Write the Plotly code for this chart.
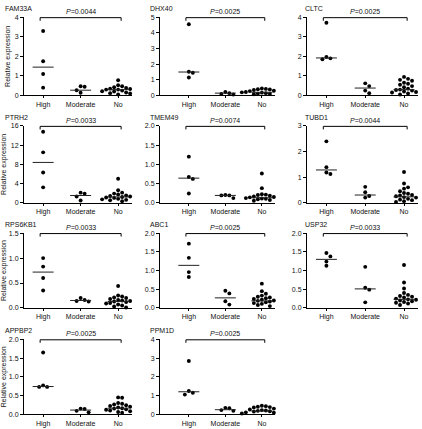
import plotly.graph_objects as go

W, H = 422, 429

groups = ["High", "Moderate", "No"]

genes = ["FAM33A", "DHX40", "CLTC", "PTRH2", "TMEM49", "TUBD1",
         "RPS6KB1", "ABC1", "USP32", "APPBP2", "PPM1D"]
p_values = ["0.0044", "0.0025", "0.0025", "0.0033", "0.0074", "0.0044",
            "0.0033", "0.0025", "0.0033", "0.0025", "0.0025"]
y_max = [4, 5, 4, 16, 2.0, 3, 1.5, 2.0, 2.0, 2.0, 4]
y_dtick = [1, 1, 1, 4, 0.5, 1, 0.5, 0.5, 0.5, 0.5, 1]
y_fmt = ["d", "d", "d", "d", ".1f", "d", ".1f", ".1f", ".1f", ".1f", "d"]

high = [
    [3.3, 1.75, 1.1, 0.4],
    [4.55, 1.52, 1.45, 1.15],
    [3.72, 1.97, 1.85, 1.9],
    [14.8, 10.5, 6.3, 3.2],
    [1.2, 0.67, 0.62, 0.24],
    [2.4, 1.39, 1.18, 1.12],
    [1.0, 0.83, 0.6, 0.35],
    [1.72, 1.34, 0.96, 0.83],
    [1.47, 1.38, 1.24, 1.13],
    [1.65, 0.77, 0.73, 0.73],
    [2.85, 1.24, 1.15, 1.05],
]
moderate = [
    [0.47, 0.45, 0.27, 0.14],
    [0.22, 0.15, 0.1, 0.06],
    [0.62, 0.48, 0.25, 0.12],
    [2.1, 1.9, 1.3, 0.45],
    [0.2, 0.19, 0.19, 0.12],
    [0.62, 0.41, 0.26, 0.2],
    [0.2, 0.16, 0.14, 0.13],
    [0.46, 0.39, 0.18, 0.09],
    [1.1, 0.54, 0.49, 0.15],
    [0.15, 0.14, 0.09, 0.05],
    [0.34, 0.32, 0.22, 0.18],
]
no_group = [
    [0.78, 0.52, 0.47, 0.42, 0.38, 0.35, 0.33, 0.3, 0.3, 0.28, 0.25, 0.22, 0.2, 0.18, 0.15, 0.12, 0.1, 0.05],
    [0.45, 0.42, 0.4, 0.38, 0.35, 0.3, 0.28, 0.25, 0.22, 0.2, 0.2, 0.18, 0.15, 0.12, 0.1, 0.08, 0.05],
    [0.95, 0.85, 0.8, 0.75, 0.65, 0.6, 0.55, 0.48, 0.42, 0.35, 0.3, 0.28, 0.25, 0.2, 0.18, 0.15, 0.1, 0.05],
    [5.0, 2.6, 2.1, 1.9, 1.7, 1.5, 1.4, 1.3, 1.2, 1.1, 1.0, 0.9, 0.8, 0.7, 0.6, 0.5, 0.3],
    [0.76, 0.38, 0.22, 0.21, 0.2, 0.18, 0.16, 0.15, 0.14, 0.13, 0.12, 0.11, 0.1, 0.09, 0.08, 0.07, 0.05],
    [1.2, 0.75, 0.6, 0.55, 0.45, 0.38, 0.35, 0.3, 0.28, 0.25, 0.22, 0.2, 0.15, 0.12, 0.1, 0.06, 0.03],
    [0.44, 0.25, 0.23, 0.21, 0.2, 0.18, 0.16, 0.15, 0.14, 0.13, 0.12, 0.1, 0.09, 0.07, 0.05, 0.03, 0.01],
    [0.65, 0.45, 0.38, 0.33, 0.3, 0.28, 0.26, 0.24, 0.22, 0.2, 0.19, 0.17, 0.15, 0.13, 0.11, 0.08, 0.05],
    [1.15, 0.68, 0.52, 0.4, 0.35, 0.32, 0.3, 0.28, 0.25, 0.23, 0.22, 0.2, 0.18, 0.16, 0.14, 0.12, 0.08],
    [0.45, 0.44, 0.3, 0.28, 0.26, 0.24, 0.22, 0.2, 0.18, 0.16, 0.15, 0.13, 0.12, 0.1, 0.08, 0.06, 0.04],
    [0.45, 0.43, 0.4, 0.38, 0.36, 0.3, 0.25, 0.22, 0.2, 0.18, 0.16, 0.14, 0.12, 0.1, 0.08, 0.06, 0.04],
]
# horizontal line value for each group (High, Moderate, No)
center_lines = [
    [1.45, 0.27, 0.3],
    [1.5, 0.15, 0.2],
    [1.92, 0.38, 0.3],
    [8.4, 1.5, 1.2],
    [0.64, 0.19, 0.13],
    [1.28, 0.3, 0.23],
    [0.72, 0.15, 0.13],
    [1.14, 0.27, 0.19],
    [1.3, 0.51, 0.23],
    [0.74, 0.11, 0.16],
    [1.2, 0.24, 0.17],
]

# layout in pixels
col_left = [24, 160, 307]
col_right = [132, 275, 418]
col_xrange = [(-0.51, 2.37), (-0.79, 2.36), (-0.5, 2.36)]
row_top = [13.5, 124, 233, 341]
row_bottom = [93, 202, 309, 417]
title_x = [3, 148, 303]

FONT = "Liberation Sans, Arial, sans-serif"
TXT = "#111"
MS = 3.9


def swarm(values, px_y, px_x, d=4.0):
    placed = []
    offs = [0.0] * len(values)
    order = sorted(range(len(values)), key=lambda i: -values[i])
    for i in order:
        y = values[i] * px_y
        cands = [0]
        for s in range(1, 8):
            cands += [s, -s]
        x = 0
        for c in cands:
            x = c * d
            if all((x - qx) ** 2 + (y - qy) ** 2 >= d * d for qx, qy in placed):
                break
        placed.append((x, y))
        offs[i] = x / px_x
    return offs


fig = go.Figure()
annotations = []
shapes = []
layout = {}

for i, g in enumerate(genes):
    r, c = divmod(i, 3)
    n = i + 1
    xs = "" if n == 1 else str(n)
    xa, ya = "x" + xs, "y" + xs
    x0p, x1p = col_left[c], col_right[c]
    y0p, y1p = row_top[r], row_bottom[r]
    xr = col_xrange[c]
    px_x = (x1p - x0p) / (xr[1] - xr[0])
    px_y = (y1p - y0p) / y_max[i]

    px, py = [], []
    for gi, vals in enumerate([high[i], moderate[i], no_group[i]]):
        offs = swarm(vals, px_y, px_x)
        px += [gi + o for o in offs]
        py += vals
    fig.add_trace(go.Scatter(x=px, y=py, mode="markers", xaxis=xa, yaxis=ya,
                             marker=dict(size=MS, color="black"),
                             cliponaxis=False, showlegend=False, hoverinfo="skip"))
    lx, ly = [], []
    hw = 10.5 / px_x
    for gi, m in enumerate(center_lines[i]):
        lx += [gi - hw, gi + hw, None]
        ly += [m, m, None]
    fig.add_trace(go.Scatter(x=lx, y=ly, mode="lines", xaxis=xa, yaxis=ya,
                             line=dict(color="#222", width=1),
                             cliponaxis=False, showlegend=False, hoverinfo="skip"))

    ticks_y = []
    v = 0.0
    while v <= y_max[i] + 1e-9:
        ticks_y.append(round(v, 3))
        v += y_dtick[i]
    ticktext = [(f"{t:.1f}" if y_fmt[i] == ".1f" else f"{int(t)}") for t in ticks_y]

    layout["xaxis" + xs] = dict(
        domain=[x0p / W, x1p / W], range=list(xr), anchor=ya,
        tickvals=[0, 1, 2], ticktext=groups, showgrid=False, zeroline=False,
        showline=True, linecolor="black", linewidth=1, ticks="outside",
        ticklen=2, tickcolor="black", tickfont=dict(family=FONT, size=7, color=TXT),
        fixedrange=True)
    yd = dict(
        domain=[1 - y1p / H, 1 - y0p / H], range=[0, y_max[i]], anchor=xa,
        tickvals=ticks_y, ticktext=ticktext, showgrid=False, zeroline=False,
        showline=True, linecolor="black", linewidth=1, ticks="outside",
        ticklen=3, tickcolor="black", tickfont=dict(family=FONT, size=7, color=TXT),
        fixedrange=True)
    if c == 0:
        yd["title"] = dict(text="Relative expression", font=dict(family=FONT, size=7, color=TXT),
                           standoff=3)
    layout["yaxis" + xs] = yd

    # bracket
    yb = ya + " domain"
    shapes.append(dict(type="path", xref=xa, yref=yb,
                       path="M -0.08 0.955 L -0.08 0.995 L 2.08 0.995 L 2.08 0.955",
                       line=dict(color="black", width=1)))
    annotations.append(dict(xref=xa, yref=yb, x=1, y=1.0, yanchor="bottom",
                            text="<i>P</i>=" + p_values[i], showarrow=False,
                            font=dict(family=FONT, size=7, color=TXT)))
    annotations.append(dict(xref="paper", yref="paper", x=title_x[c] / W,
                            y=1 - (y0p - 3) / H, xanchor="left", yanchor="bottom",
                            text=g, showarrow=False,
                            font=dict(family=FONT, size=7, color=TXT)))

fig.update_layout(width=W, height=H, autosize=False,
                  margin=dict(l=0, r=0, t=0, b=0),
                  paper_bgcolor="white", plot_bgcolor="white",
                  font=dict(family=FONT, color=TXT),
                  annotations=annotations, shapes=shapes, **layout)
fig.write_html("out.html", config={"displayModeBar": False, "staticPlot": True},
               post_script="document.body.style.margin='0';document.body.style.overflow='hidden';")
